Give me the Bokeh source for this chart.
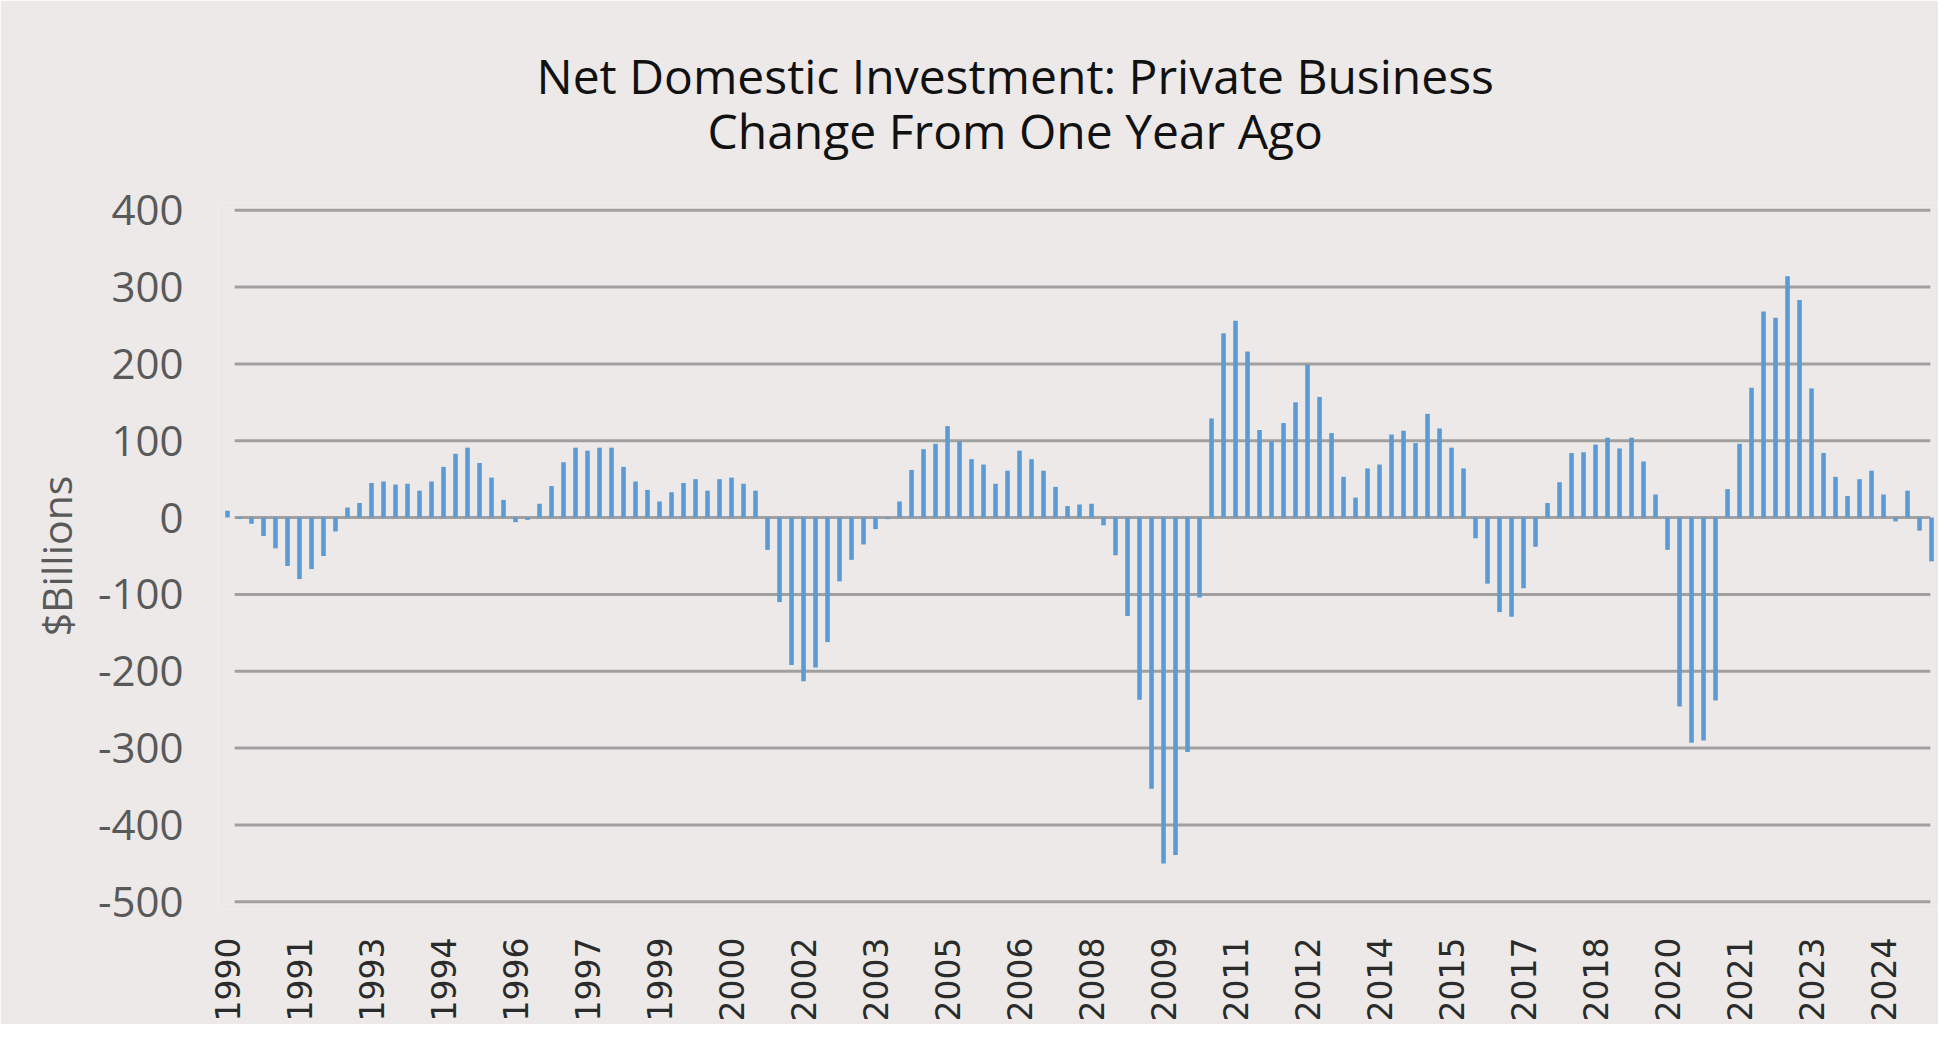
from bokeh.plotting import figure
from bokeh.models import FixedTicker, Title, Range1d, ColumnDataSource
from bokeh.embed import file_html
from bokeh.resources import INLINE
import math

# ---- data (quarterly, $ billions, change from one year ago) ----
start_year = 1990
values = [
    9, -2, -8, -24, -40, -63, -80, -67, -50, -18,
    13, 19, 45, 47, 43, 44, 35, 47, 66, 83,
    91, 71, 52, 23, -6, -3, 18, 41, 72, 91,
    87, 91, 91, 66, 47, 36, 21, 33, 45, 50,
    35, 50, 52, 44, 35, -42, -110, -192, -213, -195,
    -162, -83, -55, -35, -15, -2, 21, 62, 89, 96,
    119, 99, 76, 69, 44, 61, 87, 76, 61, 40,
    15, 17, 18, -10, -49, -128, -237, -353, -450, -439,
    -305, -104, 129, 240, 256, 216, 114, 99, 123, 150,
    199, 157, 110, 53, 26, 64, 69, 108, 113, 97,
    135, 116, 91, 64, -27, -86, -123, -129, -92, -38,
    19, 46, 84, 85, 95, 104, 90, 104, 73, 30,
    -42, -246, -293, -290, -238, 37, 96, 169, 268, 260,
    314, 283, 168, 84, 53, 28, 50, 61, 30, -5,
    35, -17, -57,
]
quarters = [f"{start_year + i // 4}Q{i % 4 + 1}" for i in range(len(values))]

tick_quarters = ["1990Q1", "1991Q3", "1993Q1", "1994Q3", "1996Q1", "1997Q3",
                 "1999Q1", "2000Q3", "2002Q1", "2003Q3", "2005Q1", "2006Q3",
                 "2008Q1", "2009Q3", "2011Q1", "2012Q3", "2014Q1", "2015Q3",
                 "2017Q1", "2018Q3", "2020Q1", "2021Q3", "2023Q1", "2024Q3"]
tick_labels = ["1990", "1991", "1993", "1994", "1996", "1997", "1999", "2000",
               "2002", "2003", "2005", "2006", "2008", "2009", "2011", "2012",
               "2014", "2015", "2017", "2018", "2020", "2021", "2023", "2024"]
y_ticks = [-500, -400, -300, -200, -100, 0, 100, 200, 300, 400]
y_tick_labels = ["-500", "-400", "-300", "-200", "-100", "0", "100", "200", "300", "400"]

title_lines = ["Net Domestic Investment: Private Business", "Change From One Year Ago"]
y_title = "$Billions"

# ---- figure ----
BG = "#ece9e8"
p = figure(width=1938, height=1024, output_backend="svg", toolbar_location=None,
           x_range=Range1d(-0.75, 142.58), y_range=Range1d(-510, 410),
           min_border_left=218, min_border_right=0, min_border_top=202,
           min_border_bottom=110)
p.background_fill_color = BG
p.border_fill_color = BG
p.outline_line_color = None
p.xgrid.visible = False
p.ygrid.visible = False
p.title = None

xs = list(range(len(values)))
src = ColumnDataSource(dict(x=xs, q=quarters, v=values))

# horizontal gridlines (drawn as segments so they span like the original)
grid_src = ColumnDataSource(dict(y=y_ticks,
                                 x0=[0.6] * len(y_ticks),
                                 x1=[141.9] * len(y_ticks)))
p.segment(x0="x0", x1="x1", y0="y", y1="y", source=grid_src,
          line_color="#a0a0a0", line_width=3)

p.vbar(x="x", top="v", bottom=0, width=0.38, source=src,
       fill_color="#5b9bd5", line_color=None)

# x axis
tick_pos = [quarters.index(q) for q in tick_quarters]
p.xaxis.ticker = FixedTicker(ticks=tick_pos)
p.xaxis.major_label_overrides = {tp: lab for tp, lab in zip(tick_pos, tick_labels)}
p.xaxis.major_label_orientation = math.pi / 2
p.xaxis.major_label_text_font = "DejaVu Sans"
p.xaxis.major_label_text_font_size = "33px"
p.xaxis.major_label_text_color = "#2b2b2b"
p.xaxis.major_label_standoff = 22
p.xaxis.axis_line_color = None
p.xaxis.major_tick_line_color = None
p.xaxis.minor_tick_line_color = None

# y axis
p.yaxis.ticker = FixedTicker(ticks=y_ticks)
p.yaxis.major_label_overrides = {t: l for t, l in zip(y_ticks, y_tick_labels)}
p.yaxis.major_label_text_font = "Open Sans"
p.yaxis.major_label_text_font_size = "42px"
p.yaxis.major_label_text_color = "#595959"
p.yaxis.major_label_standoff = 29
p.yaxis.axis_line_color = None
p.yaxis.major_tick_line_color = None
p.yaxis.minor_tick_line_color = None
p.yaxis.axis_label = y_title
p.yaxis.axis_label_text_font = "Open Sans"
p.yaxis.axis_label_text_font_size = "41px"
p.yaxis.axis_label_text_font_style = "normal"
p.yaxis.axis_label_text_color = "#595959"
p.yaxis.axis_label_standoff = 11

# two-line title, lines centred on each other
title = Title(text="\n".join(title_lines), align="left", offset=318,
              standoff=78, text_line_height=0.86,
              text_font="Open Sans", text_font_size="48px",
              text_font_style="normal", text_color="#111111")
if "text_align" in Title.properties():
    title.text_align = "center"
p.add_layout(title, "above")

open("out.html", "w").write(file_html(p, INLINE))
